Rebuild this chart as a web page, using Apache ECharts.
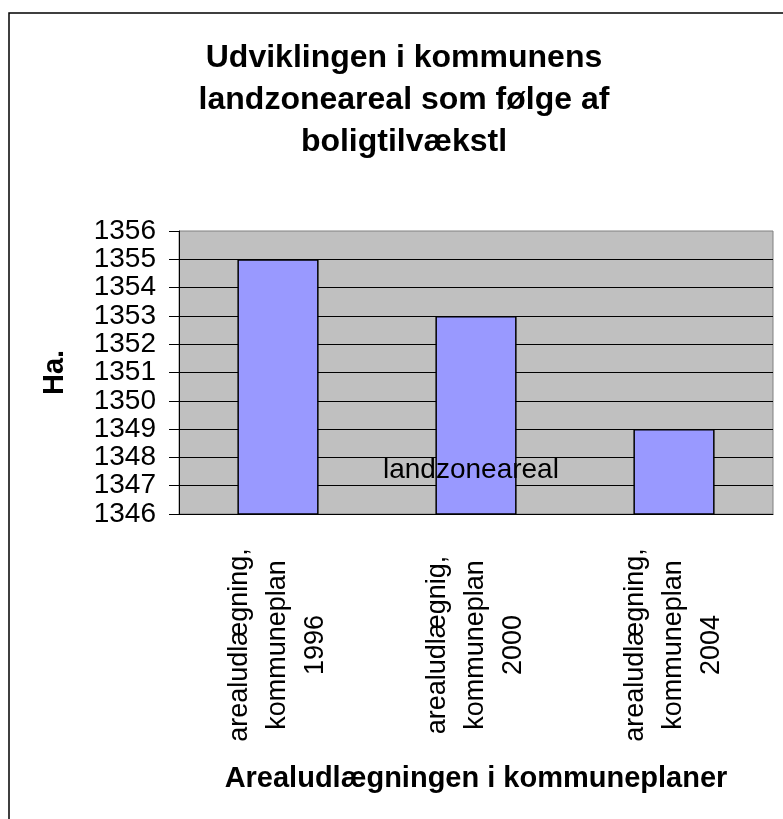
<!DOCTYPE html>
<html>
<head>
<meta charset="utf-8">
<script src="https://cdn.jsdelivr.net/npm/echarts@6/dist/echarts.min.js"></script>
<style>
  html, body { margin: 0; padding: 0; background: #fff; }
  #chart { width: 783px; height: 819px; }
</style>
</head>
<body>
<div id="chart"></div>
<script>
const titleText = 'Udviklingen i kommunens\nlandzoneareal som følge af\nboligtilvækstl'
const categories = [
  'arealudlægning,\nkommuneplan\n1996',
  'arealudlægnig,\nkommuneplan\n2000',
  'arealudlægning,\nkommuneplan\n2004'
]
const seriesName = 'landzoneareal'
const values = [1355, 1353, 1349]
const yMin = 1346
const yMax = 1356

const font = "'Liberation Sans', Arial, sans-serif"
const chart = echarts.init(document.getElementById('chart'))

// 10 black grid lines, the top one is the grey plot border
const splitColors = []
for (let i = 0; i < 10; i++) splitColors.push('#000')

const option = {
  animation: false,
  backgroundColor: '#fff',
  textStyle: { fontFamily: font, color: '#000' },
  title: {
    text: titleText,
    left: 404,
    top: 37,
    textAlign: 'center',
    padding: 0,
    textStyle: {
      fontFamily: font,
      fontSize: 32,
      fontWeight: 'bold',
      lineHeight: 42,
      color: '#000'
    }
  },
  legend: {
    data: [seriesName],
    left: 377,
    top: 456,
    padding: 0,
    itemWidth: 0,
    itemHeight: 0,
    selectedMode: false,
    textStyle: { fontFamily: font, fontSize: 28, color: '#000' }
  },
  graphic: [{
    type: 'polyline',
    shape: { points: [[9, 819], [9, 13], [783, 13]] },
    style: { stroke: '#000', lineWidth: 1.5, fill: null },
    silent: true
  }],
  grid: {
    left: 179,
    top: 231,
    right: 10,
    bottom: 305,
    show: true,
    backgroundColor: '#c0c0c0',
    borderColor: '#808080',
    borderWidth: 1
  },
  xAxis: {
    type: 'category',
    data: categories,
    name: 'Arealudlægningen i kommuneplaner',
    nameLocation: 'middle',
    nameGap: 250,
    nameTextStyle: { fontFamily: font, fontSize: 29, fontWeight: 'bold', color: '#000' },
    axisLine: { lineStyle: { color: '#000', width: 1 } },
    axisTick: { length: 10, lineStyle: { color: '#000' } },
    axisLabel: {
      interval: 0,
      rotate: 90,
      align: 'center',
      verticalAlign: 'middle',
      margin: 131,
      fontSize: 27,
      lineHeight: 38,
      color: '#000',
      fontFamily: font
    }
  },
  yAxis: {
    type: 'value',
    min: yMin,
    max: yMax,
    interval: 1,
    name: 'Ha.',
    nameLocation: 'middle',
    nameGap: 110,
    nameTextStyle: { fontFamily: font, fontSize: 29, fontWeight: 'bold', color: '#000' },
    axisLine: { show: true, lineStyle: { color: '#000', width: 1 } },
    axisTick: { show: true, length: 10, lineStyle: { color: '#000' } },
    axisLabel: {
      fontSize: 28,
      margin: 23,
      color: '#000',
      fontFamily: font,
      formatter: (v) => String(v)
    },
    splitLine: { show: true, showMaxLine: false, lineStyle: { color: splitColors, width: 1 } }
  },
  series: [{
    name: seriesName,
    type: 'bar',
    data: values,
    barWidth: '41%',
    itemStyle: { color: '#9999ff', borderColor: '#000', borderWidth: 1.5 }
  }]
}

chart.setOption(option)
</script>
</body>
</html>
